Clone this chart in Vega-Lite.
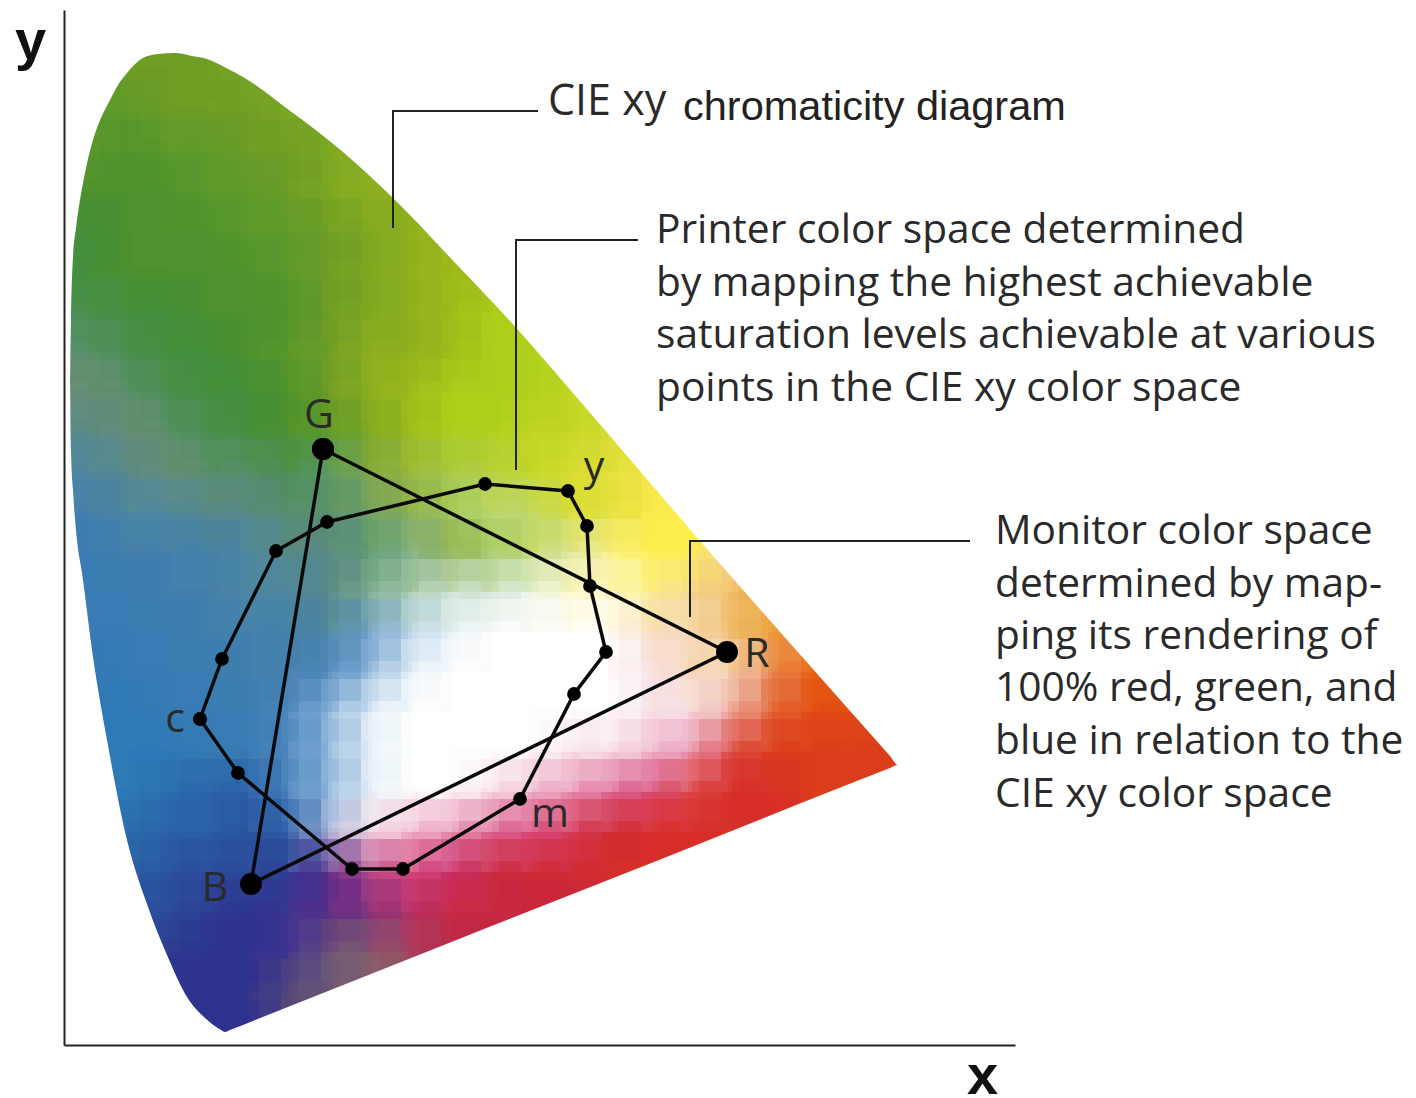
{"$schema":"https://vega.github.io/schema/vega-lite/v6.json","width":951,"height":1035,"autosize":"none","padding":{"left":64,"top":10,"right":401,"bottom":53},"background":"white","view":{"stroke":null},
"datasets":{"cells":[
{"x":66,"y":975,"t":"o1"},{"x":106,"y":975,"t":"o1"},{"x":146,"y":975,"t":"o1"},{"x":186,"y":975,"t":"o2"},
{"x":26,"y":935,"t":"g1"},{"x":66,"y":935,"t":"g1"},{"x":106,"y":935,"t":"o1"},{"x":146,"y":935,"t":"o1"},{"x":186,"y":935,"t":"o1"},{"x":226,"y":935,"t":"o2"},{"x":266,"y":935,"t":"o2"},
{"x":26,"y":895,"t":"g1"},{"x":66,"y":895,"t":"g2"},{"x":106,"y":895,"t":"g1"},{"x":146,"y":895,"t":"g1"},{"x":186,"y":895,"t":"o1"},{"x":226,"y":895,"t":"o1"},{"x":266,"y":895,"t":"o2"},{"x":306,"y":895,"t":"o3"},
{"x":26,"y":855,"t":"g2"},{"x":66,"y":855,"t":"g2"},{"x":106,"y":855,"t":"g2"},{"x":146,"y":855,"t":"g1"},{"x":186,"y":855,"t":"g1"},{"x":226,"y":855,"t":"o1"},{"x":266,"y":855,"t":"o2"},{"x":306,"y":855,"t":"o3"},{"x":346,"y":855,"t":"o3"},
{"x":26,"y":815,"t":"g3"},{"x":66,"y":815,"t":"g2"},{"x":106,"y":815,"t":"g2"},{"x":146,"y":815,"t":"g2"},{"x":186,"y":815,"t":"g1"},{"x":226,"y":815,"t":"g1"},{"x":266,"y":815,"t":"o1"},{"x":306,"y":815,"t":"o2"},{"x":346,"y":815,"t":"o3"},{"x":386,"y":815,"t":"o4"},
{"x":26,"y":775,"t":"g3"},{"x":66,"y":775,"t":"g2"},{"x":106,"y":775,"t":"g2"},{"x":146,"y":775,"t":"g2"},{"x":186,"y":775,"t":"g2"},{"x":226,"y":775,"t":"g1"},{"x":266,"y":775,"t":"o1"},{"x":306,"y":775,"t":"o2"},{"x":346,"y":775,"t":"o3"},{"x":386,"y":775,"t":"o4"},{"x":426,"y":775,"t":"o4"},
{"x":26,"y":735,"t":"g4"},{"x":66,"y":735,"t":"g3"},{"x":106,"y":735,"t":"g3"},{"x":146,"y":735,"t":"g2"},{"x":186,"y":735,"t":"g2"},{"x":226,"y":735,"t":"g2"},{"x":266,"y":735,"t":"o1"},{"x":306,"y":735,"t":"o2"},{"x":346,"y":735,"t":"o3"},{"x":386,"y":735,"t":"o4"},{"x":426,"y":735,"t":"o5"},{"x":466,"y":735,"t":"o5"},
{"x":26,"y":695,"t":"g5"},{"x":66,"y":695,"t":"g4"},{"x":106,"y":695,"t":"g3"},{"x":146,"y":695,"t":"g3"},{"x":186,"y":695,"t":"g2"},{"x":226,"y":695,"t":"g1"},{"x":266,"y":695,"t":"o1"},{"x":306,"y":695,"t":"o3"},{"x":346,"y":695,"t":"o3"},{"x":386,"y":695,"t":"o4"},{"x":426,"y":695,"t":"o5"},{"x":466,"y":695,"t":"o5"},{"x":506,"y":695,"t":"o6"},
{"x":26,"y":655,"t":"g6"},{"x":66,"y":655,"t":"g5"},{"x":106,"y":655,"t":"g4"},{"x":146,"y":655,"t":"g3"},{"x":186,"y":655,"t":"g3"},{"x":226,"y":655,"t":"g2"},{"x":266,"y":655,"t":"o1"},{"x":306,"y":655,"t":"o3"},{"x":346,"y":655,"t":"o4"},{"x":386,"y":655,"t":"o5"},{"x":426,"y":655,"t":"o5"},{"x":466,"y":655,"t":"o5"},{"x":506,"y":655,"t":"o6"},{"x":546,"y":655,"t":"o6"},
{"x":26,"y":615,"t":"g7"},{"x":66,"y":615,"t":"g6"},{"x":106,"y":615,"t":"g5"},{"x":146,"y":615,"t":"g4"},{"x":186,"y":615,"t":"g3"},{"x":226,"y":615,"t":"g2"},{"x":266,"y":615,"t":"g1"},{"x":306,"y":615,"t":"o2"},{"x":346,"y":615,"t":"o4"},{"x":386,"y":615,"t":"o5"},{"x":426,"y":615,"t":"o5"},{"x":466,"y":615,"t":"o6"},{"x":506,"y":615,"t":"o6"},{"x":546,"y":615,"t":"o7"},{"x":586,"y":615,"t":"o7"},
{"x":26,"y":575,"t":"b1"},{"x":66,"y":575,"t":"g7"},{"x":106,"y":575,"t":"g6"},{"x":146,"y":575,"t":"g5"},{"x":186,"y":575,"t":"g5"},{"x":226,"y":575,"t":"g4"},{"x":266,"y":575,"t":"p4"},{"x":306,"y":575,"t":"v1"},{"x":346,"y":575,"t":"v2"},{"x":386,"y":575,"t":"v3"},{"x":426,"y":575,"t":"v4"},{"x":466,"y":575,"t":"o6"},{"x":506,"y":575,"t":"o7"},{"x":546,"y":575,"t":"y1"},{"x":586,"y":575,"t":"y2"},
{"x":26,"y":535,"t":"b2"},{"x":66,"y":535,"t":"b1"},{"x":106,"y":535,"t":"b1"},{"x":146,"y":535,"t":"g7"},{"x":186,"y":535,"t":"g7"},{"x":226,"y":535,"t":"g5"},{"x":266,"y":535,"t":"g5"},{"x":306,"y":535,"t":"v5"},{"x":346,"y":535,"t":"p1"},{"x":386,"y":535,"t":"p2"},{"x":426,"y":535,"t":"p3"},{"x":466,"y":535,"t":"p3"},{"x":506,"y":535,"t":"o7"},{"x":546,"y":535,"t":"y1"},{"x":586,"y":535,"t":"y2"},{"x":626,"y":535,"t":"y3"},
{"x":26,"y":495,"t":"b3"},{"x":66,"y":495,"t":"b2"},{"x":106,"y":495,"t":"b2"},{"x":146,"y":495,"t":"b2"},{"x":186,"y":495,"t":"b1"},{"x":226,"y":495,"t":"g7"},{"x":266,"y":495,"t":"g7"},{"x":306,"y":495,"t":"p4"},{"x":346,"y":495,"t":"p5"},{"x":386,"y":495,"t":"p1"},{"x":426,"y":495,"t":"p2"},{"x":466,"y":495,"t":"p3"},{"x":506,"y":495,"t":"p9"},{"x":546,"y":495,"t":"y4"},{"x":586,"y":495,"t":"y3"},{"x":626,"y":495,"t":"y3"},{"x":666,"y":495,"t":"y6"},
{"x":26,"y":455,"t":"b3"},{"x":66,"y":455,"t":"b3"},{"x":106,"y":455,"t":"b2"},{"x":146,"y":455,"t":"b2"},{"x":186,"y":455,"t":"b1"},{"x":226,"y":455,"t":"b1"},{"x":266,"y":455,"t":"g7"},{"x":306,"y":455,"t":"p5"},{"x":346,"y":455,"t":"p6"},{"x":386,"y":455,"t":"p7"},{"x":426,"y":455,"t":"p7"},{"x":466,"y":455,"t":"p8"},{"x":506,"y":455,"t":"y5"},{"x":546,"y":455,"t":"y5"},{"x":586,"y":455,"t":"y4"},{"x":626,"y":455,"t":"y6"},{"x":666,"y":455,"t":"y7"},{"x":706,"y":455,"t":"a1"},
{"x":26,"y":415,"t":"b3"},{"x":66,"y":415,"t":"b3"},{"x":106,"y":415,"t":"b3"},{"x":146,"y":415,"t":"b2"},{"x":186,"y":415,"t":"b2"},{"x":226,"y":415,"t":"b2"},{"x":266,"y":415,"t":"b1"},{"x":306,"y":415,"t":"q4"},{"x":346,"y":415,"t":"q2"},{"x":386,"y":415,"t":"q1"},{"x":426,"y":415,"t":"w"},{"x":466,"y":415,"t":"w"},{"x":506,"y":415,"t":"w"},{"x":546,"y":415,"t":"w"},{"x":586,"y":415,"t":"y8"},{"x":626,"y":415,"t":"y8"},{"x":666,"y":415,"t":"y7"},{"x":706,"y":415,"t":"a1"},{"x":746,"y":415,"t":"a2"},
{"x":26,"y":375,"t":"b4"},{"x":66,"y":375,"t":"b3"},{"x":106,"y":375,"t":"b3"},{"x":146,"y":375,"t":"b3"},{"x":186,"y":375,"t":"b2"},{"x":226,"y":375,"t":"b2"},{"x":266,"y":375,"t":"q5"},{"x":306,"y":375,"t":"q3"},{"x":346,"y":375,"t":"q1"},{"x":386,"y":375,"t":"w"},{"x":426,"y":375,"t":"w"},{"x":466,"y":375,"t":"w"},{"x":506,"y":375,"t":"w"},{"x":546,"y":375,"t":"w"},{"x":586,"y":375,"t":"r0"},{"x":626,"y":375,"t":"y8"},{"x":666,"y":375,"t":"y8"},{"x":706,"y":375,"t":"a8"},{"x":746,"y":375,"t":"a3"},{"x":786,"y":375,"t":"a3"},
{"x":26,"y":335,"t":"b4"},{"x":66,"y":335,"t":"b4"},{"x":106,"y":335,"t":"b3"},{"x":146,"y":335,"t":"b3"},{"x":186,"y":335,"t":"b3"},{"x":226,"y":335,"t":"q5"},{"x":266,"y":335,"t":"q3"},{"x":306,"y":335,"t":"q1"},{"x":346,"y":335,"t":"w"},{"x":386,"y":335,"t":"w"},{"x":426,"y":335,"t":"w"},{"x":466,"y":335,"t":"w"},{"x":506,"y":335,"t":"w"},{"x":546,"y":335,"t":"w"},{"x":586,"y":335,"t":"r0"},{"x":626,"y":335,"t":"r0"},{"x":666,"y":335,"t":"s1"},{"x":706,"y":335,"t":"s2"},{"x":746,"y":335,"t":"a4"},{"x":786,"y":335,"t":"a4"},{"x":826,"y":335,"t":"a4"},
{"x":26,"y":295,"t":"b4"},{"x":66,"y":295,"t":"b4"},{"x":106,"y":295,"t":"b4"},{"x":146,"y":295,"t":"b3"},{"x":186,"y":295,"t":"b3"},{"x":226,"y":295,"t":"q5"},{"x":266,"y":295,"t":"q3"},{"x":306,"y":295,"t":"q1"},{"x":346,"y":295,"t":"w"},{"x":386,"y":295,"t":"w"},{"x":426,"y":295,"t":"w"},{"x":466,"y":295,"t":"w"},{"x":506,"y":295,"t":"r0"},{"x":546,"y":295,"t":"r0"},{"x":586,"y":295,"t":"r9"},{"x":626,"y":295,"t":"r8"},{"x":666,"y":295,"t":"s3"},{"x":706,"y":295,"t":"a5"},{"x":746,"y":295,"t":"a5"},{"x":786,"y":295,"t":"a5"},{"x":826,"y":295,"t":"a5"},
{"x":66,"y":255,"t":"b4"},{"x":106,"y":255,"t":"b5"},{"x":146,"y":255,"t":"b6"},{"x":186,"y":255,"t":"b6"},{"x":226,"y":255,"t":"q5"},{"x":266,"y":255,"t":"q3"},{"x":306,"y":255,"t":"q1"},{"x":346,"y":255,"t":"w"},{"x":386,"y":255,"t":"w"},{"x":426,"y":255,"t":"r0"},{"x":466,"y":255,"t":"r9"},{"x":506,"y":255,"t":"r8"},{"x":546,"y":255,"t":"r7"},{"x":586,"y":255,"t":"r6"},{"x":626,"y":255,"t":"s3"},{"x":666,"y":255,"t":"r1"},{"x":706,"y":255,"t":"r1"},{"x":746,"y":255,"t":"a5"},{"x":786,"y":255,"t":"a5"},{"x":826,"y":255,"t":"a5"},
{"x":66,"y":215,"t":"b5"},{"x":106,"y":215,"t":"b6"},{"x":146,"y":215,"t":"b6"},{"x":186,"y":215,"t":"b7"},{"x":226,"y":215,"t":"b6"},{"x":266,"y":215,"t":"q6"},{"x":306,"y":215,"t":"r0"},{"x":346,"y":215,"t":"r9"},{"x":386,"y":215,"t":"r8"},{"x":426,"y":215,"t":"r7"},{"x":466,"y":215,"t":"r6"},{"x":506,"y":215,"t":"s4"},{"x":546,"y":215,"t":"r2"},{"x":586,"y":215,"t":"r1"},{"x":626,"y":215,"t":"r1"},{"x":666,"y":215,"t":"r1"},{"x":706,"y":215,"t":"r1"},
{"x":66,"y":175,"t":"b6"},{"x":106,"y":175,"t":"b7"},{"x":146,"y":175,"t":"b8"},{"x":186,"y":175,"t":"b8"},{"x":226,"y":175,"t":"b9"},{"x":266,"y":175,"t":"n3"},{"x":306,"y":175,"t":"t1"},{"x":346,"y":175,"t":"r6"},{"x":386,"y":175,"t":"r5"},{"x":426,"y":175,"t":"r3"},{"x":466,"y":175,"t":"r2"},{"x":506,"y":175,"t":"r2"},{"x":546,"y":175,"t":"r1"},{"x":586,"y":175,"t":"r1"},{"x":626,"y":175,"t":"r1"},
{"x":66,"y":135,"t":"b7"},{"x":106,"y":135,"t":"b8"},{"x":146,"y":135,"t":"b9"},{"x":186,"y":135,"t":"n1"},{"x":226,"y":135,"t":"n2"},{"x":266,"y":135,"t":"n3"},{"x":306,"y":135,"t":"n4"},{"x":346,"y":135,"t":"t2"},{"x":386,"y":135,"t":"r3"},{"x":426,"y":135,"t":"r3"},{"x":466,"y":135,"t":"s5"},{"x":506,"y":135,"t":"s5"},
{"x":106,"y":95,"t":"b9"},{"x":146,"y":95,"t":"n1"},{"x":186,"y":95,"t":"n1"},{"x":226,"y":95,"t":"n2"},{"x":266,"y":95,"t":"n6"},{"x":306,"y":95,"t":"n5"},{"x":346,"y":95,"t":"t3"},{"x":386,"y":95,"t":"s6"},{"x":426,"y":95,"t":"s5"},
{"x":106,"y":55,"t":"n1"},{"x":146,"y":55,"t":"n1"},{"x":186,"y":55,"t":"n1"},{"x":226,"y":55,"t":"u1"},{"x":266,"y":55,"t":"n6"},{"x":306,"y":55,"t":"n7"},
{"x":146,"y":15,"t":"n1"},{"x":186,"y":15,"t":"n1"},{"x":226,"y":15,"t":"u1"}
],
"upper":[{"x":0,"y":665,"e":1035},{"x":6,"y":665,"e":1035},{"x":7,"y":725,"e":1035},{"x":9,"y":788,"e":1035},{"x":12,"y":817,"e":1035},{"x":16,"y":845,"e":1035},{"x":22,"y":877,"e":1035},{"x":29,"y":905,"e":1035},{"x":37,"y":927,"e":1035},{"x":46,"y":945,"e":1035},{"x":54,"y":960,"e":1035},{"x":63,"y":972,"e":1035},{"x":70,"y":980,"e":1035},{"x":79,"y":987,"e":1035},{"x":94,"y":991,"e":1035},{"x":111,"y":992,"e":1035},{"x":128,"y":989,"e":1035},{"x":146,"y":985,"e":1035},{"x":162,"y":977,"e":1035},{"x":179,"y":968,"e":1035},{"x":229,"y":932,"e":1035},{"x":279,"y":893,"e":1035},{"x":329,"y":847,"e":1035},{"x":396,"y":777,"e":1035},{"x":446,"y":724,"e":1035},{"x":490,"y":674,"e":1035},{"x":540,"y":616,"e":1035},{"x":636,"y":504,"e":1035},{"x":740,"y":386,"e":1035},{"x":826,"y":289,"e":1035},{"x":834,"y":280,"e":1035},{"x":951,"y":280,"e":1035}],
"lower":[{"x":0,"y":665,"e":0},{"x":6,"y":665,"e":0},{"x":7,"y":595,"e":0},{"x":9,"y":555,"e":0},{"x":13,"y":505,"e":0},{"x":18,"y":472,"e":0},{"x":29,"y":388,"e":0},{"x":43,"y":305,"e":0},{"x":63,"y":205,"e":0},{"x":84,"y":138,"e":0},{"x":103,"y":90,"e":0},{"x":123,"y":48,"e":0},{"x":141,"y":27,"e":0},{"x":157,"y":15,"e":0},{"x":161,"y":13,"e":0},{"x":166,"y":15,"e":0},{"x":200,"y":28.5,"e":0},{"x":400,"y":108,"e":0},{"x":600,"y":187,"e":0},{"x":780,"y":259,"e":0},{"x":826,"y":277,"e":0},{"x":834,"y":280,"e":0},{"x":951,"y":280,"e":0}],
"printer":[{"n":1,"x":136,"y":326},{"n":2,"x":158,"y":386},{"n":3,"x":212,"y":494},{"n":4,"x":263,"y":523},{"n":5,"x":421,"y":561},{"n":6,"x":504,"y":554},{"n":7,"x":523,"y":519},{"n":8,"x":526,"y":459},{"n":9,"x":542,"y":393},{"n":10,"x":510,"y":351},{"n":11,"x":456,"y":246},{"n":12,"x":339,"y":176},{"n":13,"x":288,"y":176},{"n":14,"x":174,"y":272},{"n":15,"x":136,"y":326}],
"monitor":[{"n":1,"x":259,"y":596},{"n":2,"x":663,"y":393},{"n":3,"x":187,"y":161},{"n":4,"x":259,"y":596}],
"leaders":[{"id":"a","n":1,"x":329,"y":817},{"id":"a","n":2,"x":329,"y":934},{"id":"a","n":3,"x":474,"y":934},{"id":"b","n":1,"x":452,"y":575},{"id":"b","n":2,"x":452,"y":805},{"id":"b","n":3,"x":574,"y":805},{"id":"c","n":1,"x":626,"y":428},{"id":"c","n":2,"x":626,"y":504},{"id":"c","n":3,"x":906,"y":504}]
},
"layer":[
{"data":{"name":"cells"},"mark":{"type":"rect","width":44,"height":44,"clip":true},"encoding":{
"x":{"field":"x","type":"quantitative","scale":{"domain":[0,951],"nice":false,"zero":false},"axis":{"title":"x","domain":true,"domainColor":"#222222","domainWidth":2,"ticks":false,"labels":false,"grid":false,"zindex":1,"titleFont":"Liberation Sans","titleFontSize":56,"titleFontWeight":"bold","titleColor":"#111111","titleX":918,"titleY":48,"titleAlign":"center","titleBaseline":"alphabetic"}},
"y":{"field":"y","type":"quantitative","scale":{"domain":[0,1035],"nice":false,"zero":false},"axis":{"title":"y","domain":true,"domainColor":"#222222","domainWidth":2,"ticks":false,"labels":false,"grid":false,"zindex":1,"titleFont":"Liberation Sans","titleFontSize":56,"titleFontWeight":"bold","titleColor":"#111111","titleX":-34,"titleY":48,"titleAngle":0,"titleAlign":"center","titleBaseline":"alphabetic"}},
"color":{"field":"t","type":"nominal","legend":null,"scale":{
"domain":["o1","o2","o3","o4","o5","o6","o7","g1","g2","g3","g4","g5","g6","g7","b1","b2","b3","b4","b5","b6","b7","b8","b9","n1","n2","n3","n4","n5","n6","n7","p1","p2","p3","p4","p5","p6","p7","p8","p9","w","q1","q2","q3","q4","q5","q6","y1","y2","y3","y4","y5","y6","y7","y8","a1","a2","a3","a4","a5","a8","r0","r1","r2","r3","r5","r6","r7","r8","r9","s1","s2","s3","s4","s5","s6","t1","t2","t3","u1","v1","v2","v3","v4","v5"],
"range":["#6f9f26","#7fa823","#8fb020","#9fbb1e","#aecf1b","#c2d825","#d6dd33","#5f9a2a","#4f932e","#46903c","#4a8f50","#588f6a","#6a9078","#5a8a88","#4f88a0","#4482ae","#3a7cb4","#2f7ab8","#2a6fae","#2a62a8","#2a549f","#2c4a9a","#2e3d94","#30348f","#3f3592","#5a2c8a","#83307f","#806070","#6e5a78","#8a6068","#8bb050","#a3c860","#c0d870","#5f9a70","#80b090","#a8cdb0","#d0e4d4","#eaf3e8","#dbe6a0","#ffffff","#e6f0f8","#bcd4ea","#8fb6dc","#6a9dcb","#4f88c0","#b4bcdc","#e2e03c","#f7ea4a","#fff050","#fbf090","#fff8c8","#f5d890","#f0c070","#f8dcc0","#eea640","#ec8020","#e86412","#e24a16","#dc3c1e","#e89060","#f8e2ea","#d9302a","#cf2a35","#c82a45","#c8306f","#d84a80","#e06a98","#e898b8","#f0bcd0","#ecb0a8","#e4683c","#dc4a48","#d84060","#c6283c","#b82a4c","#bc4c88","#b43068","#a84460","#5a4a78","#80aa45","#9ab840","#a8c848","#b8d048","#74a268"]}}}},
{"data":{"name":"cells"},"mark":{"type":"rect","width":84,"height":84,"opacity":0.35,"clip":true},"encoding":{"x":{"field":"x","type":"quantitative"},"y":{"field":"y","type":"quantitative"},"color":{"field":"t","type":"nominal","legend":null}}},
{"data":{"name":"cells"},"mark":{"type":"rect","width":84,"height":84,"opacity":0.35,"clip":true},"encoding":{"x":{"field":"x","type":"quantitative"},"y":{"field":"y","type":"quantitative"},"color":{"field":"t","type":"nominal","legend":null},"order":{"field":"y","sort":"ascending"}}},
{"data":{"name":"cells"},"mark":{"type":"rect","width":62,"height":62,"opacity":0.28,"clip":true},"encoding":{"x":{"field":"x","type":"quantitative"},"y":{"field":"y","type":"quantitative"},"color":{"field":"t","type":"nominal","legend":null}}},
{"data":{"name":"cells"},"mark":{"type":"rect","width":62,"height":62,"opacity":0.28,"clip":true},"encoding":{"x":{"field":"x","type":"quantitative"},"y":{"field":"y","type":"quantitative"},"color":{"field":"t","type":"nominal","legend":null},"order":{"field":"x","sort":"descending"}}},
{"data":{"name":"upper"},"mark":{"type":"area","color":"white","interpolate":"monotone"},"encoding":{"x":{"field":"x","type":"quantitative"},"y":{"field":"y","type":"quantitative"},"y2":{"field":"e"}}},
{"data":{"name":"lower"},"mark":{"type":"area","color":"white","interpolate":"monotone"},"encoding":{"x":{"field":"x","type":"quantitative"},"y":{"field":"y","type":"quantitative"},"y2":{"field":"e"}}},
{"data":{"name":"leaders"},"mark":{"type":"line","color":"#222222","strokeWidth":2,"strokeJoin":"miter"},"encoding":{"x":{"field":"x","type":"quantitative"},"y":{"field":"y","type":"quantitative"},"detail":{"field":"id"},"order":{"field":"n"}}},
{"data":{"name":"printer"},"mark":{"type":"line","color":"#0a0a0a","strokeWidth":3.5},"encoding":{"x":{"field":"x","type":"quantitative"},"y":{"field":"y","type":"quantitative"},"order":{"field":"n"}}},
{"data":{"name":"printer"},"mark":{"type":"circle","color":"#000000","size":190,"opacity":1},"encoding":{"x":{"field":"x","type":"quantitative"},"y":{"field":"y","type":"quantitative"}}},
{"data":{"name":"monitor"},"mark":{"type":"line","color":"#0a0a0a","strokeWidth":3.5},"encoding":{"x":{"field":"x","type":"quantitative"},"y":{"field":"y","type":"quantitative"},"order":{"field":"n"}}},
{"data":{"name":"monitor"},"mark":{"type":"circle","color":"#000000","size":480,"opacity":1},"encoding":{"x":{"field":"x","type":"quantitative"},"y":{"field":"y","type":"quantitative"}}},
{"data":{"values":[{"label":"Printer color space determined","x":592,"y":802},{"label":"by mapping the highest achievable","x":592,"y":749},{"label":"saturation levels achievable at various","x":592,"y":697},{"label":"points in the CIE xy color space","x":592,"y":644},{"label":"Monitor color space","x":931,"y":501},{"label":"determined by map-","x":931,"y":448},{"label":"ping its rendering of","x":931,"y":396},{"label":"100% red, green, and","x":931,"y":344},{"label":"blue in relation to the","x":931,"y":291},{"label":"CIE xy color space","x":931,"y":238}]},"mark":{"type":"text","align":"left","baseline":"alphabetic","font":"Open Sans","fontSize":40.7,"color":"#2a2a2a"},"encoding":{"x":{"field":"x","type":"quantitative"},"y":{"field":"y","type":"quantitative"},"text":{"field":"label"}}},
{"data":{"values":[{"label":"CIE xy","x":484,"y":930}]},"mark":{"type":"text","align":"left","baseline":"alphabetic","font":"Open Sans","fontSize":43,"color":"#2a2a2a"},"encoding":{"x":{"field":"x","type":"quantitative"},"y":{"field":"y","type":"quantitative"},"text":{"field":"label"}}},
{"data":{"values":[{"label":"chromaticity diagram","x":619,"y":925}]},"mark":{"type":"text","align":"left","baseline":"alphabetic","font":"Liberation Sans","fontSize":41.5,"color":"#222222"},"encoding":{"x":{"field":"x","type":"quantitative"},"y":{"field":"y","type":"quantitative"},"text":{"field":"label"}}},
{"data":{"values":[{"label":"G","x":255,"y":617},{"label":"y","x":530,"y":565},{"label":"R","x":693,"y":378},{"label":"c","x":111,"y":313},{"label":"m","x":486,"y":218},{"label":"B","x":151,"y":144}]},"mark":{"type":"text","align":"center","baseline":"alphabetic","font":"Open Sans","fontSize":41,"color":"#2a2a2a"},"encoding":{"x":{"field":"x","type":"quantitative"},"y":{"field":"y","type":"quantitative"},"text":{"field":"label"}}}
]}
